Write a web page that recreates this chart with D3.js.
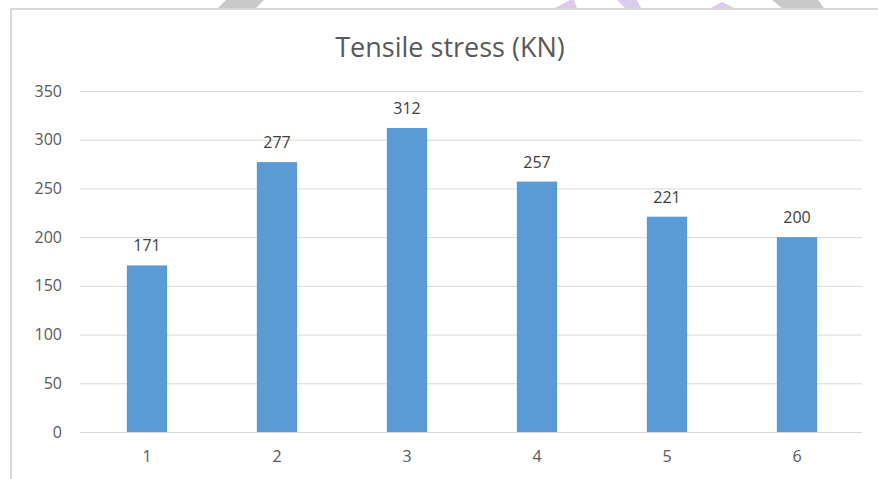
<!DOCTYPE html>
<html lang="en">
    <head>
        <meta charset="utf-8">
        <title>Tensile stress</title>
        <script src="https://cdn.jsdelivr.net/npm/d3@7"></script>
        <style>
            body { margin: 0; background: #fff; }
            text { font-family: "Open Sans", sans-serif; }
        </style>
    </head>
    <body>
        <svg width="878" height="479"></svg>
        <script type="text/javascript">
            // chart data
            var samples = ["1", "2", "3", "4", "5", "6"];
            var stress = [171, 277, 312, 257, 221, 200];
            var yTicks = [0, 50, 100, 150, 200, 250, 300, 350];

            var svg = d3.select("svg");

            // plot area
            var plot = {left: 80, right: 862, top: 91, bottom: 432};

            // chart frame (top and left edges visible)
            svg.append("path")
              .attr("d", "M11,479 L11,9 L878,9")
              .attr("fill", "none")
              .attr("stroke", "#d9d9d9")
              .attr("stroke-width", 2);

            // faint watermark pieces above the frame
            var grey = [[[226,0],[264,0],[256,8],[218,8]], [[772,0],[818,0],[824,8],[782,8]]];
            var purple = [[[555,8],[577,8],[574,0],[570,0]], [[617,0],[637,0],[641,8],[625,8]], [[711,8],[722,2],[734,8]]];
            svg.selectAll(".wm-grey").data(grey).enter().append("polygon")
              .attr("points", function(d) { return d.join(" "); })
              .attr("fill", "#c9c9c9");
            svg.selectAll(".wm-purple").data(purple).enter().append("polygon")
              .attr("points", function(d) { return d.join(" "); })
              .attr("fill", "#dccbef");

            // scales
            var x = d3.scaleBand()
                .domain(samples)
                .range([plot.left + 2, plot.right])
                .paddingInner(0.69)
                .paddingOuter(0.345);

            var y = d3.scaleLinear()
                .domain([0, 350])
                .range([plot.bottom, plot.top]);

            // y axis with gridlines
            var yAxis = d3.axisLeft(y)
                .tickValues(yTicks)
                .tickSize(-(plot.right - plot.left))
                .tickPadding(18);

            var gy = svg.append("g")
              .attr("transform", "translate(" + plot.left + ",0)")
              .call(yAxis);
            gy.select(".domain").remove();
            gy.selectAll(".tick line")
              .attr("stroke", "#d9d9d9")
              .attr("stroke-width", 1);
            gy.selectAll(".tick text")
              .attr("fill", "#595959")
              .style("font-size", "16px");

            // x axis labels
            var xAxis = d3.axisBottom(x).tickSize(0).tickPadding(19);
            var gx = svg.append("g")
              .attr("transform", "translate(0," + plot.bottom + ")")
              .call(xAxis);
            gx.select(".domain").remove();
            gx.selectAll(".tick text")
              .attr("fill", "#595959")
              .style("font-size", "16px");

            // bars
            svg.selectAll(".bar")
              .data(stress)
              .enter()
                .append("rect")
                .attr("class", "bar")
                .attr("x", function(d, i) { return x(samples[i]); })
                .attr("width", x.bandwidth())
                .attr("y", function(d) { return y(d); })
                .attr("height", function(d) { return y(0) - y(d); })
                .attr("fill", "#5b9bd5");

            // value labels
            svg.selectAll(".val")
              .data(stress)
              .enter()
                .append("text")
                .attr("class", "val")
                .attr("x", function(d, i) { return x(samples[i]) + x.bandwidth() / 2; })
                .attr("y", function(d) { return y(d) - 14; })
                .attr("text-anchor", "middle")
                .attr("fill", "#404040")
                .style("font-size", "16px")
                .text(function(d) { return d; });

            // title
            svg.append("text")
              .attr("x", 450)
              .attr("y", 57)
              .attr("text-anchor", "middle")
              .attr("fill", "#595959")
              .style("font-size", "27px")
              .text("Tensile stress (KN)");
        </script>
    </body>
</html>
